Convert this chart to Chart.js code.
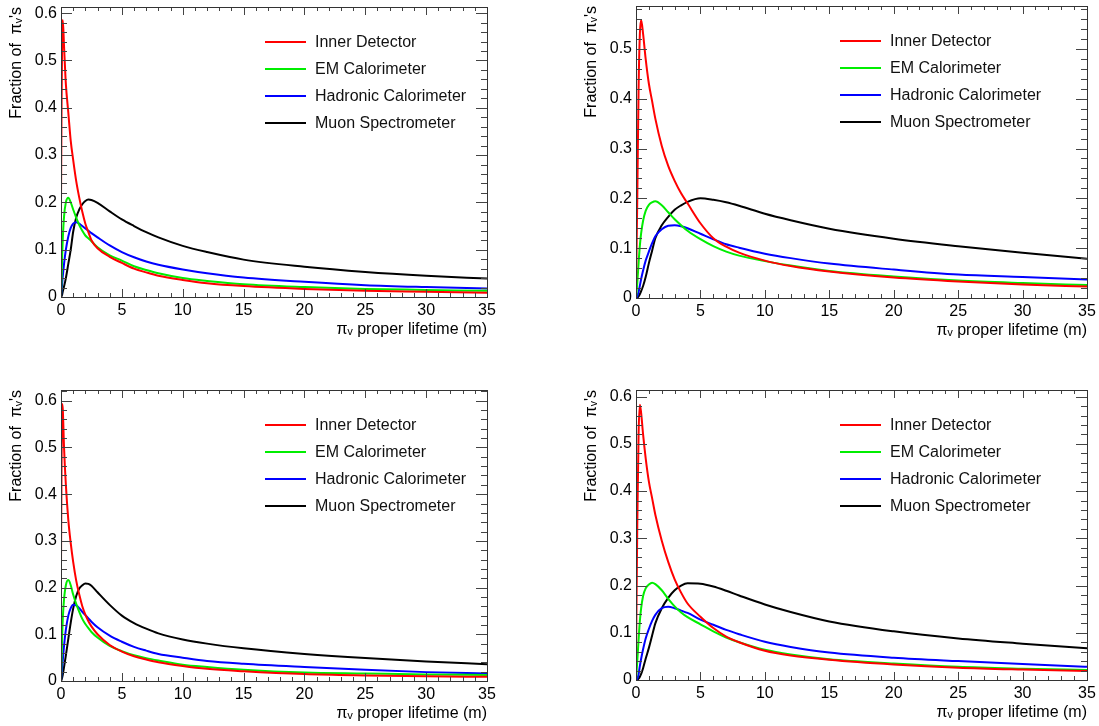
<!DOCTYPE html>
<html>
<head>
<meta charset="utf-8">
<script src="https://cdn.jsdelivr.net/npm/chart.js@4.4.1/dist/chart.umd.min.js"></script>
<style>
  body { margin: 0; background: #fff; width: 1099px; height: 726px; overflow: hidden; }
  canvas { position: absolute; }
</style>
</head>
<body>
<canvas id="p1" width="500" height="345" style="left:0px;top:0px"></canvas>
<canvas id="p2" width="524" height="345" style="left:575px;top:0px"></canvas>
<canvas id="p3" width="500" height="343" style="left:0px;top:383px"></canvas>
<canvas id="p4" width="524" height="343" style="left:575px;top:383px"></canvas>
<script>
// series names (legend order)
const labels = ['Inner Detector', 'EM Calorimeter', 'Hadronic Calorimeter', 'Muon Spectrometer'];
const colors = ['#ff0000', '#00ee00', '#0000ff', '#000000'];

// ---- panel 1 (top left) ----
const p1X      = [0, 0.05, 0.1, 0.15, 0.25, 0.4, 0.6, 0.8, 1.0, 1.25, 1.5, 1.75, 2, 2.25, 2.5, 3, 4, 5, 6, 7, 8, 10, 12, 15, 20, 25, 30, 35];
const p1Inner  = [0.2, 0.42, 0.56, 0.585, 0.53, 0.45, 0.39, 0.33, 0.29, 0.245, 0.21, 0.18, 0.155, 0.137, 0.12, 0.103, 0.085, 0.072, 0.06, 0.052, 0.045, 0.036, 0.029, 0.023, 0.017, 0.013, 0.011, 0.009];
const p1EM     = [0, 0.04, 0.09, 0.125, 0.17, 0.2, 0.21, 0.2, 0.185, 0.168, 0.152, 0.14, 0.13, 0.124, 0.118, 0.105, 0.088, 0.077, 0.065, 0.057, 0.05, 0.04, 0.034, 0.027, 0.021, 0.017, 0.015, 0.013];
const p1Had    = [0, 0.015, 0.03, 0.045, 0.07, 0.1, 0.128, 0.146, 0.155, 0.158, 0.155, 0.15, 0.145, 0.14, 0.135, 0.126, 0.109, 0.095, 0.084, 0.075, 0.068, 0.058, 0.05, 0.041, 0.032, 0.025, 0.021, 0.018];
const p1Muon   = [0, 0.002, 0.006, 0.012, 0.022, 0.04, 0.07, 0.1, 0.138, 0.168, 0.185, 0.196, 0.203, 0.206, 0.205, 0.199, 0.181, 0.164, 0.15, 0.137, 0.126, 0.108, 0.095, 0.079, 0.064, 0.053, 0.045, 0.039];

// ---- panel 2 (top right) ----
const p2X      = [0, 0.1, 0.2, 0.3, 0.4, 0.55, 0.75, 1, 1.25, 1.5, 2, 2.5, 3, 3.5, 4, 5, 6, 7, 8, 10, 12, 15, 20, 25, 30, 35];
const p2Inner  = [0.02, 0.2, 0.42, 0.53, 0.558, 0.53, 0.48, 0.43, 0.395, 0.36, 0.305, 0.265, 0.235, 0.21, 0.19, 0.15, 0.12, 0.103, 0.091, 0.075, 0.064, 0.053, 0.041, 0.033, 0.027, 0.023];
const p2EM     = [0, 0.03, 0.07, 0.105, 0.13, 0.155, 0.175, 0.187, 0.192, 0.194, 0.186, 0.172, 0.158, 0.146, 0.135, 0.118, 0.104, 0.093, 0.085, 0.074, 0.065, 0.054, 0.043, 0.035, 0.03, 0.026];
const p2Had    = [0, 0.004, 0.012, 0.025, 0.038, 0.055, 0.075, 0.093, 0.11, 0.124, 0.138, 0.145, 0.146, 0.144, 0.14, 0.129, 0.118, 0.108, 0.101, 0.089, 0.08, 0.069, 0.057, 0.047, 0.042, 0.037];
const p2Muon   = [0, 0.001, 0.003, 0.008, 0.014, 0.024, 0.042, 0.07, 0.095, 0.12, 0.146, 0.163, 0.177, 0.186, 0.193, 0.2, 0.197, 0.192, 0.185, 0.169, 0.156, 0.139, 0.119, 0.104, 0.091, 0.079];

// ---- panel 3 (bottom left) ----
const p3X      = [0, 0.05, 0.1, 0.15, 0.25, 0.4, 0.6, 0.8, 1.0, 1.25, 1.5, 1.75, 2, 2.25, 2.5, 3, 4, 5, 6, 7, 8, 10, 12, 15, 20, 25, 30, 35];
const p3Inner  = [0.25, 0.48, 0.593, 0.58, 0.5, 0.42, 0.345, 0.295, 0.255, 0.215, 0.185, 0.16, 0.142, 0.128, 0.117, 0.1, 0.077, 0.063, 0.053, 0.046, 0.04, 0.032, 0.026, 0.021, 0.015, 0.012, 0.01, 0.009];
const p3EM     = [0, 0.05, 0.1, 0.135, 0.175, 0.205, 0.216, 0.205, 0.185, 0.165, 0.148, 0.133, 0.122, 0.113, 0.105, 0.093, 0.075, 0.064, 0.055, 0.049, 0.044, 0.035, 0.03, 0.024, 0.018, 0.016, 0.014, 0.013];
const p3Had    = [0, 0.015, 0.03, 0.045, 0.075, 0.11, 0.14, 0.156, 0.163, 0.162, 0.156, 0.148, 0.141, 0.134, 0.127, 0.115, 0.097, 0.084, 0.073, 0.065, 0.058, 0.05, 0.043, 0.037, 0.03, 0.024, 0.019, 0.016];
const p3Muon   = [0, 0.003, 0.008, 0.014, 0.03, 0.055, 0.09, 0.125, 0.155, 0.182, 0.198, 0.205, 0.209, 0.208, 0.204, 0.19, 0.163, 0.14, 0.124, 0.112, 0.102, 0.089, 0.08, 0.07, 0.058, 0.049, 0.042, 0.036];

// ---- panel 4 (bottom right) ----
const p4X      = [0, 0.1, 0.2, 0.3, 0.4, 0.55, 0.75, 1, 1.25, 1.5, 2, 2.5, 3, 3.5, 4, 5, 6, 7, 8, 10, 12, 15, 20, 25, 30, 35];
const p4Inner  = [0.04, 0.33, 0.52, 0.583, 0.565, 0.52, 0.47, 0.42, 0.385, 0.35, 0.295, 0.25, 0.213, 0.185, 0.162, 0.134, 0.11, 0.092, 0.08, 0.062, 0.052, 0.043, 0.033, 0.026, 0.022, 0.019];
const p4EM     = [0, 0.04, 0.085, 0.125, 0.152, 0.178, 0.194, 0.202, 0.206, 0.203, 0.19, 0.172, 0.156, 0.143, 0.133, 0.118, 0.103, 0.09, 0.08, 0.064, 0.054, 0.044, 0.035, 0.028, 0.024, 0.021];
const p4Had    = [0, 0.003, 0.012, 0.03, 0.045, 0.065, 0.088, 0.108, 0.125, 0.138, 0.152, 0.155, 0.152, 0.147, 0.142, 0.128, 0.117, 0.106, 0.097, 0.081, 0.07, 0.058, 0.047, 0.04, 0.034, 0.028];
const p4Muon   = [0, 0.001, 0.003, 0.007, 0.013, 0.025, 0.045, 0.068, 0.094, 0.12, 0.152, 0.174, 0.19, 0.2, 0.205, 0.204, 0.198, 0.189, 0.179, 0.16, 0.144, 0.124, 0.103, 0.088, 0.077, 0.067];

Chart.defaults.font.family = '"Liberation Sans", Arial, sans-serif';
Chart.defaults.color = '#000';

// ROOT style frame with ticks on all four sides, pointing inwards
const frameTicks = {
    id: 'frameTicks',
    afterDraw(chart) {
        const {ctx, chartArea: a, scales: {x, y}} = chart;
        ctx.save();
        ctx.strokeStyle = '#444';
        ctx.lineWidth = 1;
        ctx.beginPath();
        for (let v = 0; v <= 35.001; v += 1) {
            const px = Math.round(x.getPixelForValue(v)) + 0.5;
            const len = (v % 5 === 0) ? 8 : 4;
            ctx.moveTo(px, a.bottom); ctx.lineTo(px, a.bottom - len);
            ctx.moveTo(px, a.top); ctx.lineTo(px, a.top + len);
        }
        for (let i = 0; i * 0.02 <= y.max + 1e-9; i++) {
            const py = Math.round(y.getPixelForValue(i * 0.02)) + 0.5;
            const len = (i % 5 === 0) ? 11 : 6;
            ctx.moveTo(a.left, py); ctx.lineTo(a.left + len, py);
            ctx.moveTo(a.right, py); ctx.lineTo(a.right - len, py);
        }
        ctx.stroke();
        ctx.strokeStyle = '#333';
        ctx.strokeRect(Math.round(a.left) + 0.5, Math.round(a.top) + 0.5,
            Math.round(a.right - a.left), Math.round(a.bottom - a.top));
        ctx.restore();
    }
};

// legend box drawn inside the frame
const boxLegend = {
    id: 'boxLegend',
    afterDraw(chart) {
        const {ctx, chartArea: a} = chart;
        ctx.save();
        ctx.font = '16px "Liberation Sans", Arial, sans-serif';
        ctx.textBaseline = 'middle';
        chart.data.datasets.forEach((ds, i) => {
            const yy = a.top + 35 + i * 27;
            ctx.strokeStyle = ds.borderColor;
            ctx.lineWidth = 2;
            ctx.beginPath();
            ctx.moveTo(a.left + 204, yy);
            ctx.lineTo(a.left + 245, yy);
            ctx.stroke();
            ctx.fillStyle = '#111';
            ctx.fillText(ds.label, a.left + 254, yy + 1);
        });
        ctx.restore();
    }
};

function makePanel(id, xs, series, yMax, pad) {
    const datasets = series.map((ys, i) => ({
        label: labels[i],
        data: xs.map((xv, k) => ({x: xv, y: ys[k]})),
        borderColor: colors[i],
        borderWidth: 2,
        pointRadius: 0,
        fill: false,
        cubicInterpolationMode: 'monotone'
    }));
    return new Chart(document.getElementById(id), {
        type: 'line',
        data: {datasets},
        options: {
            responsive: false,
            animation: false,
            devicePixelRatio: 1,
            layout: {padding: pad},
            plugins: {legend: {display: false}, tooltip: {enabled: false}},
            scales: {
                x: {
                    type: 'linear',
                    min: 0,
                    max: 35,
                    grid: {display: false, drawTicks: false},
                    border: {display: false},
                    ticks: {stepSize: 5, padding: 4, maxRotation: 0, autoSkip: false, font: {size: 16}},
                    title: {display: true, text: 'πᵥ proper lifetime (m)', align: 'end',
                            font: {size: 16}, padding: {top: 0, bottom: 0}},
                    afterFit: s => { s.height = 42; s.paddingLeft = 0; s.paddingRight = 0; }
                },
                y: {
                    type: 'linear',
                    min: 0,
                    max: yMax,
                    grid: {display: false, drawTicks: false},
                    border: {display: false},
                    ticks: {stepSize: 0.1, padding: 4, includeBounds: false, font: {size: 16},
                            callback: v => v === 0 ? '0' : v.toFixed(1)},
                    afterBuildTicks: s => {
                        s.ticks = s.ticks.filter(t => Math.abs(t.value * 10 - Math.round(t.value * 10)) < 1e-6);
                    },
                    title: {display: true, text: "Fraction of  πᵥ's", align: 'end',
                            font: {size: 16}, padding: {top: 7, bottom: 0}},
                    afterFit: s => { s.width = 61; s.paddingTop = 0; s.paddingBottom = 0; }
                }
            }
        },
        plugins: [frameTicks, boxLegend]
    });
}

makePanel('p1', p1X, [p1Inner, p1EM, p1Had, p1Muon], 0.613, {top: 7, right: 13, bottom: 6, left: 0});
makePanel('p2', p2X, [p2Inner, p2EM, p2Had, p2Muon], 0.586, {top: 6, right: 12, bottom: 5, left: 0});
makePanel('p3', p3X, [p3Inner, p3EM, p3Had, p3Muon], 0.623, {top: 7, right: 13, bottom: 3, left: 0});
makePanel('p4', p4X, [p4Inner, p4EM, p4Had, p4Muon], 0.614, {top: 7, right: 12, bottom: 4, left: 0});
</script>
</body>
</html>
